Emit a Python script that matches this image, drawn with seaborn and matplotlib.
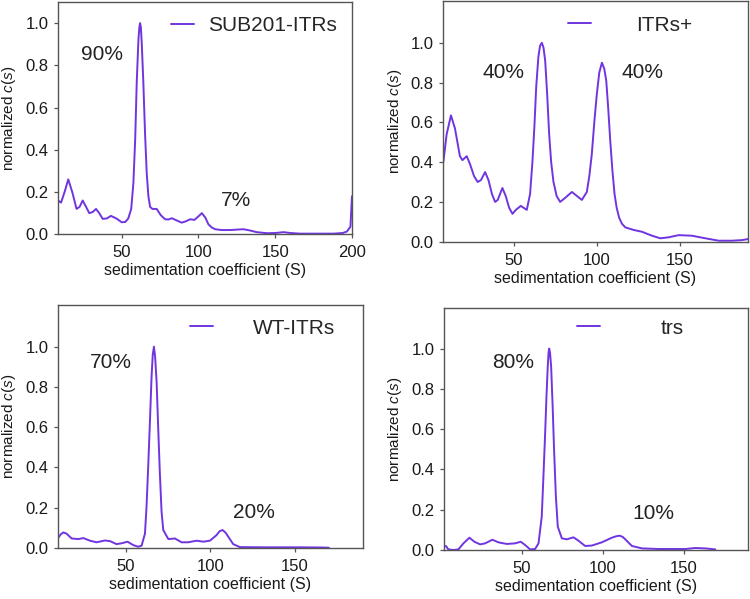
import matplotlib
matplotlib.use("Agg")
import matplotlib.pyplot as plt
import seaborn as sns
import pandas as pd

sub201_s = [8.5, 10.5, 12.8, 15.2, 17.8, 20.6, 22.6, 24.6, 26.8, 28.9, 31.0, 33.3,
            35.4, 37.6, 40.3, 43.0, 46.5, 50.0, 52.3, 54.3, 56.2, 57.6, 58.8, 59.8,
            60.9, 61.5, 62.0, 62.5, 63.1, 64.1, 65.2, 66.3, 67.4, 68.5, 70.0, 71.7,
            72.8, 75.5, 78.3, 80.5, 82.6, 86.0, 89.1, 92.0, 94.6, 97.4, 100.0, 102.2,
            104.4, 106.5, 108.7, 110.9, 115.0, 120.7, 125.0, 129.3, 133.5, 138.0,
            144.6, 150.0, 155.4, 160.0, 166.0, 177.0, 188.0, 194.0, 196.7, 199.0, 200.0]
sub201_c = [0.16, 0.15, 0.20, 0.26, 0.20, 0.12, 0.13, 0.16, 0.13, 0.10, 0.105, 0.12,
            0.10, 0.073, 0.075, 0.087, 0.075, 0.057, 0.058, 0.075, 0.12, 0.24, 0.45, 0.72,
            0.92, 0.98, 1.0, 0.98, 0.90, 0.72, 0.48, 0.29, 0.18, 0.13, 0.12, 0.12,
            0.12, 0.09, 0.071, 0.07, 0.076, 0.065, 0.055, 0.062, 0.071, 0.068, 0.085, 0.10,
            0.08, 0.047, 0.032, 0.024, 0.02, 0.02, 0.022, 0.024, 0.018, 0.01,
            0.005, 0.006, 0.01, 0.006, 0.003, 0.003, 0.003, 0.006, 0.013, 0.036, 0.18]

itrs_plus_s = [7.5, 9.5, 12.1, 14.5, 17.5, 19.0, 21.6, 23.6, 26.0, 28.2, 30.2, 32.7,
               34.7, 36.8, 38.7, 40.3, 43.1, 45.1, 47.2, 49.2, 51.2, 54.2, 57.8, 59.8,
               61.2, 62.4, 63.5, 64.8, 65.8, 66.9, 67.9, 68.9, 70.1, 71.3, 72.5, 73.9,
               75.8, 77.9, 80.9, 85.0, 88.0, 91.0, 94.0, 95.5, 97.0, 98.5, 100.0, 101.5,
               103.1, 104.5, 105.7, 106.9, 108.1, 109.4, 110.7, 112.0, 113.5, 115.2,
               117.2, 122.2, 127.2, 133.3, 138.3, 143.3, 149.4, 157.4, 165.5, 173.5,
               181.5, 187.6, 191.0]
itrs_plus_c = [0.40, 0.54, 0.635, 0.57, 0.43, 0.41, 0.43, 0.39, 0.33, 0.30, 0.31, 0.35,
               0.31, 0.24, 0.20, 0.21, 0.27, 0.23, 0.17, 0.14, 0.16, 0.18, 0.16, 0.24,
               0.40, 0.58, 0.78, 0.93, 0.985, 1.0, 0.975, 0.91, 0.74, 0.54, 0.40, 0.30,
               0.23, 0.20, 0.22, 0.25, 0.23, 0.21, 0.25, 0.33, 0.44, 0.60, 0.74, 0.85,
               0.90, 0.87, 0.81, 0.67, 0.51, 0.36, 0.24, 0.17, 0.12, 0.09,
               0.072, 0.059, 0.05, 0.03, 0.017, 0.022, 0.033, 0.03, 0.017, 0.005,
               0.005, 0.008, 0.013]

wt_s = [10.2, 11.8, 13.2, 15.1, 18.1, 22.0, 25.0, 28.9, 32.8, 37.8, 40.7, 44.6, 47.6,
        51.1, 54.5, 57.4, 59.4, 61.4, 62.3, 63.3, 64.3, 65.3, 66.0, 66.7, 67.4, 68.3,
        69.2, 70.2, 71.2, 72.2, 75.2, 79.1, 83.0, 86.9, 91.9, 95.8, 99.8, 103.7,
        105.5, 107.2, 109.0, 110.6, 113.5, 117.5, 133.0, 152.9, 166.7, 170.0]
wt_c = [0.05, 0.068, 0.076, 0.07, 0.046, 0.043, 0.048, 0.035, 0.027, 0.036, 0.033, 0.018,
        0.022, 0.03, 0.013, 0.005, 0.01, 0.07, 0.20, 0.40, 0.62, 0.85, 0.96, 1.0, 0.95,
        0.82, 0.60, 0.37, 0.18, 0.088, 0.043, 0.046, 0.027, 0.027, 0.035, 0.03, 0.035,
        0.063, 0.082, 0.088, 0.075, 0.055, 0.018, 0.003, 0.002, 0.002, 0.001, 0.0]

trs_s = [2.0, 3.2, 4.7, 7.8, 10.9, 14.0, 17.7, 20.8, 24.3, 27.4, 31.9, 35.6, 40.8, 45.9,
         49.4, 52.1, 55.2, 58.3, 60.4, 62.4, 63.4, 64.5, 65.3, 66.1, 66.6, 67.0, 67.5,
         68.2, 69.1, 70.0, 71.1, 72.3, 74.8, 77.9, 82.0, 85.1, 89.2, 93.3, 99.5, 105.7,
         108.3, 110.5, 112.4, 114.0, 118.1, 124.3, 134.6, 144.9, 151.1, 157.3, 163.4,
         169.6]
trs_c = [0.017, 0.02, 0.003, 0.0, 0.003, 0.033, 0.061, 0.041, 0.028, 0.033, 0.051, 0.038,
         0.03, 0.033, 0.041, 0.025, 0.003, 0.005, 0.033, 0.166, 0.36, 0.58, 0.76, 0.91,
         0.98, 1.0, 0.98, 0.91, 0.72, 0.50, 0.27, 0.116, 0.058, 0.053, 0.063, 0.046, 0.02,
         0.022, 0.038, 0.061, 0.068, 0.071, 0.065, 0.053, 0.02, 0.008, 0.005, 0.005, 0.005,
         0.01, 0.008, 0.003]

sample_names = ["SUB201-ITRs", "ITRs+", "WT-ITRs", "trs"]
peak_labels = [["90%", "7%"], ["40%", "40%"], ["70%", "20%"], ["80%", "10%"]]

# ── Style ───────────────────────────────────────────────────────────────────
sns.set_theme(style="ticks")
plt.rcParams["font.family"] = ["Liberation Sans", "DejaVu Sans"]
plt.rcParams["mathtext.fontset"] = "custom"
plt.rcParams["mathtext.rm"] = "Liberation Sans"
plt.rcParams["mathtext.it"] = "Liberation Sans:italic"
LINE = "#7035E0"
SPINE = "#555555"

fig = plt.figure(figsize=(7.5, 5.99), dpi=100)

panels = [
    dict(s=sub201_s, c=sub201_c, rect=[0.0773, 0.6089, 0.392, 0.3878],
         xlim=(8.5, 200), ylim=(0, 1.10), xticks=[50, 100, 150, 200],
         leg=(0.384, 0.897), pad=0.67, ann=[(37, 0.85), (124.6, 0.16)]),
    dict(s=itrs_plus_s, c=itrs_plus_c, rect=[0.5911, 0.5965, 0.4059, 0.4018],
         xlim=(7.5, 191), ylim=(0, 1.21), xticks=[50, 100, 150],
         leg=(0.409, 0.90), pad=2.2, ann=[(43.7, 0.85), (127.8, 0.85)]),
    dict(s=wt_s, c=wt_c, rect=[0.0777, 0.0856, 0.4059, 0.4052],
         xlim=(10.2, 190), ylim=(0, 1.207), xticks=[50, 100, 150],
         leg=(0.433, 0.905), pad=1.9, ann=[(41.1, 0.92), (125.7, 0.176)]),
    dict(s=trs_s, c=trs_c, rect=[0.592, 0.0818, 0.4057, 0.4035],
         xlim=(2, 190), ylim=(0, 1.20), xticks=[50, 100, 150],
         leg=(0.437, 0.918), pad=2.9, ann=[(44.9, 0.93), (131.5, 0.18)]),
]

for name, labels, p in zip(sample_names, peak_labels, panels):
    ax = fig.add_axes(p["rect"])
    df = pd.DataFrame({"s": p["s"], "c": p["c"]})
    sns.lineplot(data=df, x="s", y="c", ax=ax, color=LINE, linewidth=1.4,
                 label=name, sort=False)
    ax.set_xlim(*p["xlim"])
    ax.set_ylim(*p["ylim"])
    ax.set_xticks(p["xticks"])
    ax.set_yticks([0.0, 0.2, 0.4, 0.6, 0.8, 1.0])
    ax.set_yticklabels(["0.0", "0.2", "0.4", "0.6", "0.8", "1.0"])
    ax.tick_params(labelsize=12, length=3, width=0.9, color=SPINE,
                   labelcolor="#1a1a1a")
    ax.tick_params(axis="x", pad=5)
    ax.tick_params(axis="y", pad=4)
    for sp in ax.spines.values():
        sp.set_color(SPINE)
        sp.set_linewidth(1.0)
    ax.set_xlabel("sedimentation coefficient (S)", fontsize=11.5, color="#1a1a1a",
                  labelpad=2)
    ax.set_ylabel(r"normalized $c(s)$", fontsize=11, color="#1a1a1a", labelpad=5)
    for txt, (x, y) in zip(labels, p["ann"]):
        ax.text(x, y, txt, fontsize=15, ha="center", va="center", color="#222222")
    ax.legend(loc="center left", bbox_to_anchor=p["leg"], frameon=False,
              fontsize=15, handlelength=1.1, handletextpad=p["pad"],
              borderpad=0, borderaxespad=0)

fig.savefig("out.png", dpi=100)
